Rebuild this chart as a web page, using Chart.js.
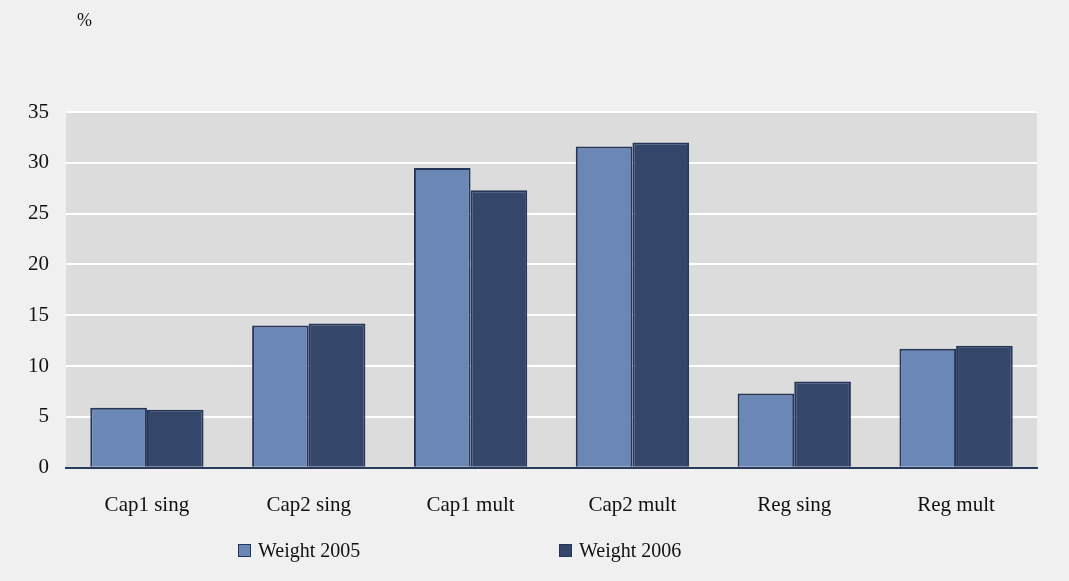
<!DOCTYPE html>
<html lang="en">
<head>
  <meta charset="UTF-8" />
  <title>Weights</title>
  <script src="https://cdn.jsdelivr.net/npm/chart.js"></script>
  <style>
    html, body { margin: 0; padding: 0; background: #f0f0f0; }
    .wrap { position: relative; width: 1069px; height: 581px; }
    .legend { position: absolute; top: 539px; font: 20px "Liberation Serif", serif; color: #111; display: flex; align-items: center; }
    .legend span.box { width: 11px; height: 11px; border: 1px solid #25355a; margin-right: 7px; display: inline-block; }
  </style>
</head>
<body>
  <div class="wrap">
    <canvas id="grafico" width="1069" height="581"></canvas>
    <div class="legend" style="left:238px"><span class="box" style="background:#6b87b5"></span>Weight 2005</div>
    <div class="legend" style="left:559px"><span class="box" style="background:#34476b"></span>Weight 2006</div>
  </div>
  <script>
    const categorias = ['Cap1 sing', 'Cap2 sing', 'Cap1 mult', 'Cap2 mult', 'Reg sing', 'Reg mult'];
    const peso2005 = [5.9, 14.0, 29.5, 31.6, 7.3, 11.7];
    const peso2006 = [5.7, 14.2, 27.3, 32.0, 8.5, 12.0];
    const ticksY = [0, 5, 10, 15, 20, 25, 30, 35];

    const fundoPlot = {
      id: 'fundoPlot',
      beforeDraw(chart) {
        const { ctx, chartArea } = chart;
        ctx.save();
        ctx.fillStyle = '#dcdcdc';
        ctx.fillRect(chartArea.left, chartArea.top, chartArea.right - chartArea.left, chartArea.bottom - chartArea.top);
        ctx.restore();
      },
      afterDraw(chart) {
        const ctx = chart.ctx;
        ctx.save();
        ctx.fillStyle = '#111';
        ctx.font = '18px "Liberation Serif", serif';
        ctx.textBaseline = 'middle';
        ctx.fillText('%', 77, 21);
        ctx.restore();
      }
    };

    new Chart(document.getElementById('grafico'), {
      type: 'bar',
      data: {
        labels: categorias,
        datasets: [
          { label: 'Weight 2005', data: peso2005, backgroundColor: '#6b87b5', borderColor: '#25355a', borderWidth: 2 },
          { label: 'Weight 2006', data: peso2006, backgroundColor: '#34476b', borderColor: '#25355a', borderWidth: 2 }
        ]
      },
      options: {
        responsive: false,
        animation: false,
        datasets: { bar: { categoryPercentage: 0.7, barPercentage: 1.0 } },
        layout: { padding: { left: 11, right: 32, top: 112, bottom: 46 } },
        plugins: { legend: { display: false }, tooltip: { enabled: false } },
        scales: {
          x: {
            grid: { display: false },
            border: { display: true, color: '#2a3a5a', width: 2 },
            ticks: { color: '#111', padding: 17, font: { family: 'Liberation Serif', size: 21 } }
          },
          y: {
            min: 0,
            max: 35,
            afterBuildTicks(axis) { axis.ticks = ticksY.map(v => ({ value: v })); },
            grid: { color: '#ffffff', lineWidth: 2, drawTicks: false },
            border: { display: false },
            ticks: { color: '#111', padding: 17, font: { family: 'Liberation Serif', size: 21 } }
          }
        }
      },
      plugins: [fundoPlot]
    });
  </script>
</body>
</html>
